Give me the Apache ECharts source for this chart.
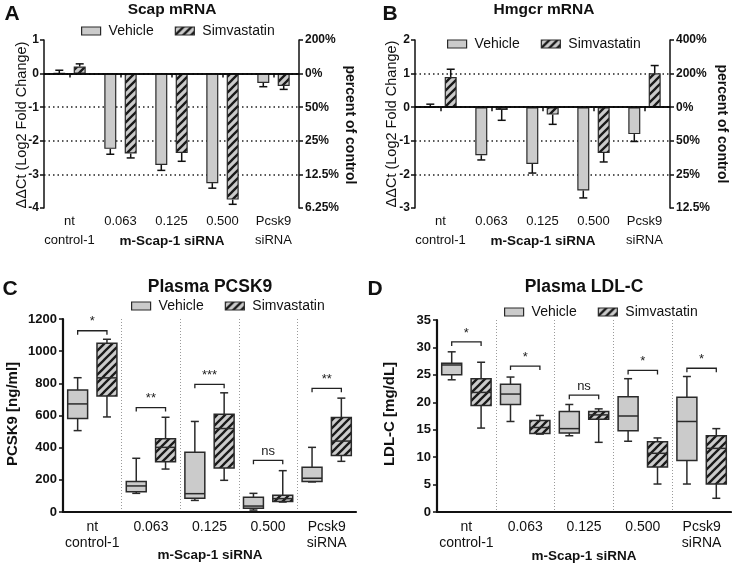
<!DOCTYPE html>
<html><head><meta charset="utf-8">
<script src="https://cdn.jsdelivr.net/npm/echarts@6/dist/echarts.min.js"></script>
<style>html,body{margin:0;padding:0;background:#fff}#c{width:732px;height:563px}</style>
</head><body><div id="c"></div>
<script>
// ---------- data ----------
const categories = ['nt\ncontrol-1', '0.063', '0.125', '0.500', 'Pcsk9\nsiRNA'];
const seriesNames = ['Vehicle', 'Simvastatin'];

// Panel A: Scap mRNA (ΔΔCt), bar value and error-bar end
const scapVehicle = [0.01, -2.24, -2.72, -3.26, -0.28];
const scapVehicleErr = [0.10, -2.40, -2.88, -3.41, -0.39];
const scapSimva = [0.21, -2.38, -2.36, -3.75, -0.37];
const scapSimvaErr = [0.29, -2.51, -2.61, -3.89, -0.47];
const scapPctTicks = [1, 0, -1, -2, -3, -4];
const scapPctLabels = ['200%', '0%', '50%', '25%', '12.5%', '6.25%'];

// Panel B: Hmgcr mRNA
const hmgVehicle = [0.01, -1.43, -1.69, -2.48, -0.80];
const hmgVehicleErr = [0.09, -1.57, -1.96, -2.70, -1.02];
const hmgSimva = [0.90, -0.08, -0.22, -1.36, 1.01];
const hmgSimvaErr = [1.13, -0.39, -0.51, -1.63, 1.24];
const hmgPctTicks = [2, 1, 0, -1, -2, -3];
const hmgPctLabels = ['400%', '200%', '0%', '50%', '25%', '12.5%'];

// Panel C: Plasma PCSK9 [min, Q1, median, Q3, max]
const pcsk9Vehicle = [[506, 582, 672, 759, 835], [116, 126, 162, 189, 334], [72, 85, 114, 372, 563], [12, 23, 37, 91, 116], [187, 190, 210, 278, 402]];
const pcsk9Simva = [[591, 722, 834, 1049, 1074], [267, 313, 402, 456, 589], [197, 273, 519, 608, 741], [62, 66, 83, 104, 257], [315, 352, 441, 588, 708]];
const pcsk9SigY = [1127, 649, 794, 321, 769];
const pcsk9SigText = ['*', '**', '***', 'ns', '**'];

// Panel D: Plasma LDL-C
const ldlVehicle = [[24.1, 25.0, 26.8, 27.1, 29.2], [16.5, 19.6, 21.5, 23.3, 24.6], [13.9, 14.4, 15.2, 18.3, 19.6], [12.9, 14.8, 17.5, 21.0, 24.3], [5.1, 9.4, 16.5, 20.9, 24.7]];
const ldlSimva = [[15.3, 19.4, 21.8, 24.3, 27.3], [14.2, 14.3, 15.4, 16.7, 17.6], [12.7, 16.9, 17.7, 18.3, 18.8], [5.1, 8.2, 10.7, 12.8, 13.5], [2.5, 5.1, 11.6, 13.9, 15.2]];
const ldlSigY = [31.0, 26.6, 21.3, 25.8, 26.2];
const ldlSigText = ['*', '*', 'ns', '*', '*'];

// ---------- styling ----------
const FF = '"Liberation Sans", Arial, sans-serif';
const TXT = '#111';
const GRAY = '#cbcbcb';
const EDGE = '#2a2a2a';
const BAR_W = 12, BAR_GAP = 0.7;
const BAR_OFF = (BAR_W + BAR_W * BAR_GAP) / 2;

function makeHatch() {
  const s = 8;
  const c = document.createElement('canvas');
  c.width = s; c.height = s;
  const g = c.getContext('2d');
  g.fillStyle = GRAY; g.fillRect(0, 0, s, s);
  g.strokeStyle = '#1a1a1a'; g.lineWidth = 2.3;
  g.beginPath();
  g.moveTo(-1, s + 1); g.lineTo(s + 1, -1);
  g.moveTo(-s / 2 - 1, s / 2 + 1); g.lineTo(s / 2 + 1, -s / 2 - 1);
  g.moveTo(s / 2 - 1, s * 1.5 + 1); g.lineTo(s * 1.5 + 1, s / 2 - 1);
  g.stroke();
  return c;
}
const HATCH = { image: makeHatch(), repeat: 'repeat' };

// ---------- render helpers ----------
function errRender(sign) {
  return function (params, api) {
    const i = api.value(0);
    const x = api.coord([i, 0])[0] + sign * BAR_OFF;
    const y0 = api.coord([i, api.value(1)])[1];
    const y1 = api.coord([i, api.value(2)])[1];
    const st = { stroke: '#111', lineWidth: 1.5 };
    return { type: 'group', children: [
      { type: 'line', shape: { x1: x, y1: y0, x2: x, y2: y1 }, style: st },
      { type: 'line', shape: { x1: x - 4, y1: y1, x2: x + 4, y2: y1 }, style: st }
    ] };
  };
}
function boxRender(sign, fill) {
  return function (params, api) {
    const i = api.value(0);
    const band = api.size([1, 0])[0];
    const cx = api.coord([i, 0])[0] + sign * band * 0.25;
    const hw = band * 0.17;
    const y = k => api.coord([i, api.value(k)])[1];
    const yMin = y(1), yQ1 = y(2), yMed = y(3), yQ3 = y(4), yMax = y(5);
    const st = { stroke: EDGE, lineWidth: 1.5 };
    return { type: 'group', children: [
      { type: 'line', shape: { x1: cx, y1: yQ3, x2: cx, y2: yMax }, style: st },
      { type: 'line', shape: { x1: cx - 4, y1: yMax, x2: cx + 4, y2: yMax }, style: st },
      { type: 'line', shape: { x1: cx, y1: yQ1, x2: cx, y2: yMin }, style: st },
      { type: 'line', shape: { x1: cx - 4, y1: yMin, x2: cx + 4, y2: yMin }, style: st },
      { type: 'rect', shape: { x: cx - hw, y: yQ3, width: hw * 2, height: yQ1 - yQ3 }, style: { fill: fill, stroke: EDGE, lineWidth: 1.5 } },
      { type: 'line', shape: { x1: cx - hw, y1: yMed, x2: cx + hw, y2: yMed }, style: st }
    ] };
  };
}
function sigRender(labels) {
  return function (params, api) {
    const i = api.value(0);
    const band = api.size([1, 0])[0];
    const c = api.coord([i, api.value(1)]);
    const x1 = c[0] - band * 0.25, x2 = c[0] + band * 0.25, yy = c[1];
    return { type: 'group', children: [
      { type: 'polyline', shape: { points: [[x1, yy + 4], [x1, yy], [x2, yy], [x2, yy + 4]] }, style: { stroke: '#222', fill: null, lineWidth: 1.3 } },
      { type: 'text', x: c[0], y: yy - 9, style: { text: labels[params.dataIndex], align: 'center', verticalAlign: 'middle', font: '13px ' + FF, fill: '#222' } }
    ] };
  };
}

// ---------- axes ----------
const grids = [
  { left: 44, top: 40, width: 255, height: 168 },
  { left: 415, top: 40, width: 255, height: 168 },
  { left: 63, top: 319, width: 293, height: 193 },
  { left: 437, top: 320, width: 294, height: 192 }
];
function catAxis(gi, small) {
  return {
    type: 'category', gridIndex: gi, data: categories, boundaryGap: true,
    axisLine: { lineStyle: { color: '#111', width: small ? 1.5 : 2.2 } },
    axisTick: small ? { show: true, alignWithLabel: true, length: 4, lineStyle: { color: '#111', width: 1.5 } } : { show: false },
    axisLabel: { interval: 0, color: TXT, fontFamily: FF, fontSize: small ? 13 : 14, lineHeight: small ? 19 : 16, margin: small ? 4 : 7 },
    splitLine: small ? { show: false } : { show: true, showMinLine: false, showMaxLine: false, lineStyle: { color: '#9a9a9a', type: [1, 2], width: 1 } }
  };
}
const plain = v => String(v);
function valAxis(gi, min, max, interval, opts) {
  return Object.assign({
    type: 'value', gridIndex: gi, min: min, max: max, interval: interval,
    axisLine: { show: true, lineStyle: { color: '#111', width: 1.5 } },
    axisTick: { show: true, length: 4, lineStyle: { color: '#111', width: 1.5 } },
    axisLabel: { color: TXT, fontFamily: FF, fontWeight: 'bold', fontSize: 12, margin: 5, formatter: plain },
    splitLine: { show: false }
  }, opts || {});
}
const dotted = { show: true, showMinLine: false, showMaxLine: false, lineStyle: { color: '#222', type: [1.5, 3], width: 1.5 } };
function pctFormatter(ticks, labels) {
  return v => { const k = ticks.indexOf(v); return k >= 0 ? labels[k] : ''; };
}

const xAxis = [catAxis(0, true), catAxis(1, true), catAxis(2, false), catAxis(3, false)];
const yAxis = [
  valAxis(0, -4, 1, 1, { splitLine: dotted }),
  valAxis(0, -4, 1, 1, { position: 'right', axisLabel: { color: TXT, fontFamily: FF, fontWeight: 'bold', fontSize: 12, margin: 6, formatter: pctFormatter(scapPctTicks, scapPctLabels) } }),
  valAxis(1, -3, 2, 1, { splitLine: dotted }),
  valAxis(1, -3, 2, 1, { position: 'right', axisLabel: { color: TXT, fontFamily: FF, fontWeight: 'bold', fontSize: 12, margin: 6, formatter: pctFormatter(hmgPctTicks, hmgPctLabels) } }),
  valAxis(2, 0, 1200, 200, { axisLine: { show: true, lineStyle: { color: '#111', width: 2.2 } }, axisLabel: { color: TXT, fontFamily: FF, fontWeight: 'bold', fontSize: 13, margin: 6, formatter: plain } }),
  valAxis(3, 0, 35, 5, { axisLine: { show: true, lineStyle: { color: '#111', width: 2.2 } }, axisLabel: { color: TXT, fontFamily: FF, fontWeight: 'bold', fontSize: 13, margin: 6, formatter: plain } })
];

// ---------- series ----------
const zeroLine = { silent: true, symbol: 'none', label: { show: false }, animation: false,
  lineStyle: { color: '#000', width: 1.6, type: 'solid' }, data: [{ yAxis: 0 }] };
function barSeries(name, vals, xi, yi, fill, withZero) {
  const s = { type: 'bar', name: name, xAxisIndex: xi, yAxisIndex: yi, data: vals,
    barWidth: BAR_W, barGap: (BAR_GAP * 100) + '%',
    itemStyle: { color: fill, borderColor: EDGE, borderWidth: 1.2 } };
  if (withZero) s.markLine = zeroLine;
  return s;
}
function errSeries(name, vals, ends, xi, yi, sign) {
  return { type: 'custom', name: name + ' error', xAxisIndex: xi, yAxisIndex: yi,
    renderItem: errRender(sign), encode: { x: 0, y: [1, 2] }, z: 3,
    data: vals.map((v, i) => [i, v, ends[i]]) };
}
function boxSeries(name, boxes, xi, yi, sign, fill) {
  return { type: 'custom', name: name, xAxisIndex: xi, yAxisIndex: yi,
    renderItem: boxRender(sign, fill), encode: { x: 0, y: [1, 2, 3, 4, 5] },
    itemStyle: { color: fill, borderColor: EDGE },
    data: boxes.map((b, i) => [i].concat(b)) };
}
function sigSeries(ys, labels, xi, yi) {
  return { type: 'custom', name: 'sig', xAxisIndex: xi, yAxisIndex: yi,
    renderItem: sigRender(labels), encode: { x: 0, y: 1 },
    data: ys.map((v, i) => [i, v]) };
}

const series = [
  barSeries('Vehicle', scapVehicle, 0, 0, GRAY, true),
  barSeries('Simvastatin', scapSimva, 0, 0, HATCH, false),
  errSeries('Vehicle', scapVehicle, scapVehicleErr, 0, 0, -1),
  errSeries('Simvastatin', scapSimva, scapSimvaErr, 0, 0, 1),
  barSeries('Vehicle', hmgVehicle, 1, 2, GRAY, true),
  barSeries('Simvastatin', hmgSimva, 1, 2, HATCH, false),
  errSeries('Vehicle', hmgVehicle, hmgVehicleErr, 1, 2, -1),
  errSeries('Simvastatin', hmgSimva, hmgSimvaErr, 1, 2, 1),
  boxSeries('Vehicle', pcsk9Vehicle, 2, 4, -1, GRAY),
  boxSeries('Simvastatin', pcsk9Simva, 2, 4, 1, HATCH),
  sigSeries(pcsk9SigY, pcsk9SigText, 2, 4),
  boxSeries('Vehicle', ldlVehicle, 3, 5, -1, GRAY),
  boxSeries('Simvastatin', ldlSimva, 3, 5, 1, HATCH),
  sigSeries(ldlSigY, ldlSigText, 3, 5)
];

function legendAt(left, top) {
  return { left: left, top: top, orient: 'horizontal', selectedMode: false,
    itemWidth: 19, itemHeight: 8, itemGap: 21,
    textStyle: { color: TXT, fontFamily: FF, fontSize: 14, padding: [0, 0, 0, 3] },
    data: [
      { name: seriesNames[0], icon: 'rect', itemStyle: { color: GRAY, borderColor: EDGE, borderWidth: 1.2 } },
      { name: seriesNames[1], icon: 'rect', itemStyle: { color: HATCH, borderColor: EDGE, borderWidth: 1.2 } }
    ] };
}

function txt(text, x, y, font, rot) {
  return { type: 'text', x: x, y: y, rotation: rot || 0, silent: true,
    style: { text: text, font: font, fill: TXT, align: 'center', verticalAlign: 'middle' } };
}
const graphics = [
  txt('A', 12, 14, 'bold 21px ' + FF), txt('B', 390, 14, 'bold 21px ' + FF),
  txt('C', 10, 289, 'bold 21px ' + FF), txt('D', 375, 289, 'bold 21px ' + FF),
  txt('Scap mRNA', 172, 10, 'bold 15.5px ' + FF), txt('Hmgcr mRNA', 544, 10, 'bold 15.5px ' + FF),
  txt('Plasma PCSK9', 210, 287, 'bold 17.5px ' + FF), txt('Plasma LDL-C', 584, 287, 'bold 17.5px ' + FF),
  txt('ΔΔCt (Log2 Fold Change)', 22, 125, '14.5px ' + FF, Math.PI / 2),
  txt('ΔΔCt (Log2 Fold Change)', 392, 124, '14.5px ' + FF, Math.PI / 2),
  txt('percent of control', 350, 125, 'bold 14px ' + FF, -Math.PI / 2),
  txt('percent of control', 722, 124, 'bold 14px ' + FF, -Math.PI / 2),
  txt('m-Scap-1 siRNA', 172, 241, 'bold 13.5px ' + FF), txt('m-Scap-1 siRNA', 543, 241, 'bold 13.5px ' + FF),
  txt('m-Scap-1 siRNA', 210, 555, 'bold 13.5px ' + FF), txt('m-Scap-1 siRNA', 584, 556, 'bold 13.5px ' + FF),
  txt('PCSK9 [ng/ml]', 13, 414, 'bold 15px ' + FF, Math.PI / 2),
  txt('LDL-C [mg/dL]', 390, 414, 'bold 15px ' + FF, Math.PI / 2)
];

const chart = echarts.init(document.getElementById('c'), null, { renderer: 'canvas' });
chart.setOption({
  animation: false,
  backgroundColor: '#fff',
  grid: grids,
  xAxis: xAxis,
  yAxis: yAxis,
  legend: [legendAt(76, 19), legendAt(442, 32), legendAt(126, 294), legendAt(499, 300)],
  series: series,
  graphic: graphics
});
</script>
</body></html>
